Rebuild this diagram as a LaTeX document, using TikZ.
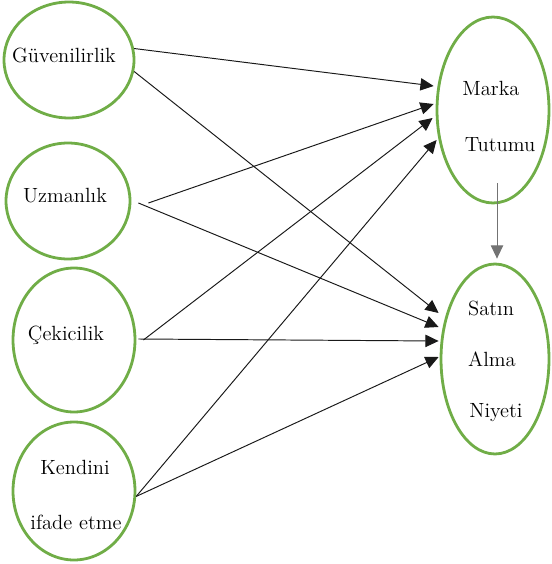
\documentclass[tikz,border=0pt]{standalone}
\usetikzlibrary{calc,arrows.meta,shapes.geometric}
\definecolor{ovalgreen}{RGB}{112,173,71}
\tikzset{
	oval/.style={ellipse, draw=ovalgreen, line width=1.6pt, inner sep=0pt},
	lbl/.style={anchor=base, inner sep=0pt, font=\fontsize{11.7}{14}\selectfont, text=black},
	arr/.style={line width=0.55pt, color=black!90, -{Triangle[length=7.5pt,width=7pt]}},
}

\begin{document}
\begin{tikzpicture}[x=0.02cm, y=-0.02cm]
			%%%%% START %%%%%
			\useasboundingbox (0, 0) rectangle (551, 564);
			
			\node[oval, minimum width=2.6cm, minimum height=2.32cm] (guv) at (69, 60) {};
			\node[oval, minimum width=2.48cm, minimum height=2.32cm] (uzm) at (68, 201) {};
			\node[oval, minimum width=2.44cm, minimum height=2.88cm] (cek) at (74, 340) {};
			\node[oval, minimum width=2.44cm, minimum height=2.76cm] (ken) at (74, 491) {};
			\node[oval, minimum width=2.24cm, minimum height=3.72cm] (mt) at (493, 110) {};
			\node[oval, minimum width=2.16cm, minimum height=3.8cm] (sat) at (495, 359) {};
			
			\node[lbl] (guvtxt) at (64, 63) {Güvenilirlik};
			\node[lbl] (uzmtxt) at (65, 202) {Uzmanlık};
			\node[lbl] (cektxt) at (66, 340) {Çekicilik};
			\node[lbl] (kentxta) at (75, 474) {Kendini};
			\node[lbl] (kentxtb) at (76, 529) {ifade etme};
			\node[lbl] (mttxta) at (491, 96) {Marka};
			\node[lbl] (mttxtb) at (500, 152) {Tutumu};
			\node[lbl] (sattxta) at (491, 315) {Satın};
			\node[lbl] (sattxtb) at (492, 366) {Alma};
			\node[lbl] (sattxtc) at (496, 417) {Niyeti};
			
			\draw[arr] (guv.10) -- ($(mt.west)+(-2, -24)$);
			\draw[arr] (guv.-10) -- ($(sat.west)+(-1, -46)$);
			
			\draw[arr] ($(uzm.east)+(17, 2)$) -- ($(mt.west)+(-2, -6)$);
			\draw[arr] ($(uzm.east)+(7, 2)$) -- ($(sat.west)+(-1, -32)$);
			
			\draw[arr] ($(cek.east)+(7, 0)$) -- ($(mt.west)+(-3, 8)$);
			\draw[arr] ($(cek.east)+(2, -1)$) -- ($(sat.west)+(-1, -18)$);
			
			\draw[arr] (ken.-5) -- ($(mt.west)+(1, 30)$);
			\draw[arr] (ken.-5) -- ($(sat.west)+(-1, -2)$);
			
			\draw[arr, color=black!55] ($(mt.south)+(4, -21)$) -- ($(sat.north)+(2, -4)$);
			%%%%% END %%%%%
\end{tikzpicture}
\end{document}
